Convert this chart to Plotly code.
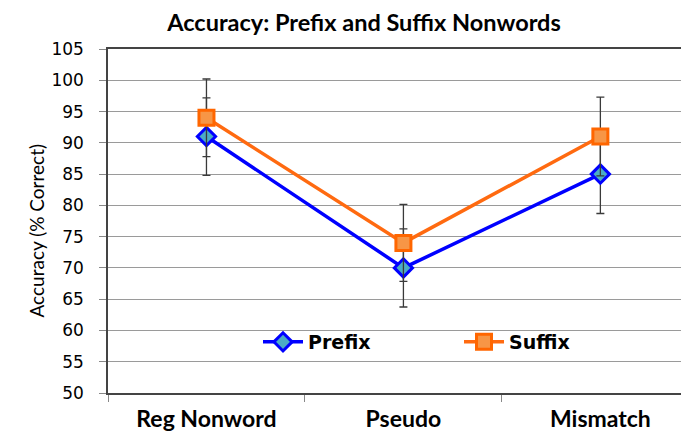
import plotly.graph_objects as go

categories = ["Reg Nonword", "Pseudo", "Mismatch"]
prefix_vals = [91, 70, 85]
prefix_err = [6.2, 6.25, 6.3]
suffix_vals = [94, 74, 91]
suffix_err = [6.2, 6.15, 6.3]
y_ticks = list(range(50, 106, 5))

# page body has an 8px margin; compensate so the plot lands where the reference has it
OFF = 8
W, H = 689 - OFF, 434 - OFF
L, T, B = 108 - OFF, 49 - OFF, 434 - 393
PW = W - L
PH = H - T - B

fig = go.Figure()
err_style = dict(type="data", visible=True, color="#3a3a3a", thickness=1.3, width=4)

fig.add_trace(go.Scatter(
    x=categories, y=prefix_vals, name="<b>Prefix</b>", mode="lines+markers",
    line=dict(color="#0000FF", width=3.5),
    marker=dict(symbol="diamond", size=14, color="#4BACC6", line=dict(color="#0000FF", width=3)),
    error_y=dict(array=prefix_err, **err_style),
))
fig.add_trace(go.Scatter(
    x=categories, y=suffix_vals, name="<b>Suffix</b>", mode="lines+markers",
    line=dict(color="#FF6A10", width=3.5),
    marker=dict(symbol="square", size=15, color="#F79646", line=dict(color="#FF6600", width=3)),
    error_y=dict(array=suffix_err, **err_style),
))

fig.update_layout(
    width=W, height=H,
    margin=dict(l=L, r=0, t=T, b=B),
    paper_bgcolor="white", plot_bgcolor="white",
    title=dict(text="<b>Accuracy: Prefix and Suffix Nonwords</b>", x=(364 - OFF) / W, xref="container",
               xanchor="center", y=1 - (22.5 - OFF) / H, yref="container", yanchor="middle",
               font=dict(family="Lato, Carlito, sans-serif", size=23.5, color="black")),
    showlegend=True,
    legend=dict(orientation="h", x=(258 - 108) / PW, xanchor="left", y=(393 - 342) / PH, yanchor="middle",
                bgcolor="rgba(0,0,0,0)", font=dict(family="DejaVu Sans", size=19, color="black"),
                entrywidth=146, entrywidthmode="pixels", itemwidth=40),
    annotations=[dict(text="Accuracy (% Correct)", x=(22 - 108) / PW, y=(393 - 231) / PH,
                      xref="paper", yref="paper", textangle=-90, showarrow=False,
                      font=dict(family="Lato, sans-serif", size=19, color="black"))],
)

fig.update_xaxes(
    type="category", range=[-0.5, 2.45], showgrid=False,
    showline=True, linecolor="#444", linewidth=1.5, mirror=True,
    ticks="outside", tickson="boundaries", ticklen=7, tickcolor="#888", tickwidth=1,
    tickfont=dict(family="Lato, Carlito, sans-serif", size=23, color="black"),
    ticklabelstandoff=5,
    tickvals=categories, ticktext=["<b>" + c + "</b>" for c in categories],
)
fig.update_yaxes(
    range=[50, 105], tickvals=y_ticks, showgrid=True, gridcolor="#9a9a9a", gridwidth=1,
    showline=True, linecolor="#444", linewidth=1.5, zeroline=False,
    ticks="outside", ticklen=7, tickcolor="#888",
    tickfont=dict(family="DejaVu Sans", size=17, color="black"),
    ticklabelstandoff=12,
)

fig.write_html("out.html")
